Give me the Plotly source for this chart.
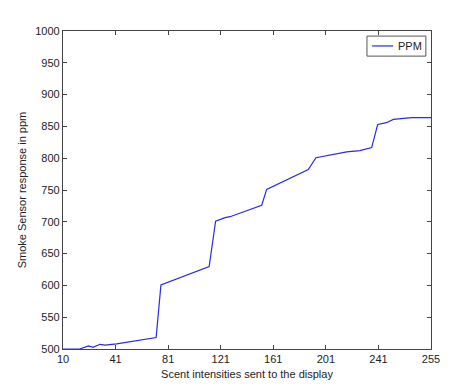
import plotly.graph_objects as go

x_vals = [10, 21, 27, 30, 34.6, 38, 45.7, 72, 75.2, 107.3, 111.6, 117.9, 121.2, 131.2,
          141.2, 142.3, 145.6, 150, 161.1, 173.3, 178.4, 187.8, 198.9, 207.7, 215.5,
          219.5, 225.4, 229.9, 242, 255]
ppm = [500, 500, 505, 502.6, 507.4, 506, 508, 518, 600.6, 629.5, 701, 706.5, 708, 717,
       725.3, 726, 751, 756, 768, 782, 800.8, 805, 810, 812, 816.7,
       853, 855.8, 861, 863.7, 863.7]
series_name = "PPM"

x_tick_pos = [10, 45, 80, 115, 150, 185, 220, 255]
x_tick_labels = ["10", "41", "81", "121", "161", "201", "241", "255"]
y_ticks = [500, 550, 600, 650, 700, 750, 800, 850, 900, 950, 1000]

font = dict(family="Liberation Sans, Arial, sans-serif", size=11, color="#222222")
line_color = "#2a2ae0"

fig = go.Figure()
fig.add_trace(go.Scatter(x=x_vals, y=ppm, mode="lines", name=series_name,
                         line=dict(color=line_color, width=1.2), showlegend=False))

axis_common = dict(showgrid=False, zeroline=False, showline=True, linecolor="#444444",
                   linewidth=1.3, mirror="ticks", ticks="inside", ticklen=4,
                   tickcolor="#444444", tickfont=font)

# legend box (MATLAB style)
fig.add_shape(type="rect", xref="paper", yref="paper", x0=0.826, x1=0.986, y0=0.921, y1=0.984,
              line=dict(color="#555555", width=1), fillcolor="white")
fig.add_shape(type="line", xref="paper", yref="paper", x0=0.840, x1=0.897, y0=0.953, y1=0.953,
              line=dict(color=line_color, width=1.2))
fig.add_annotation(xref="paper", yref="paper", x=0.905, y=0.953, text=series_name,
                   showarrow=False, xanchor="left", yanchor="middle", font=font)

fig.update_layout(
    width=474, height=391,
    margin=dict(l=63, r=43, t=31, b=42),
    paper_bgcolor="white", plot_bgcolor="white",
    font=font,
    xaxis=dict(range=[10, 255], tickvals=x_tick_pos, ticktext=x_tick_labels,
               title=dict(text="Scent intensities sent to the display", font=font, standoff=5),
               **axis_common),
    yaxis=dict(range=[500, 1000], tickvals=y_ticks,
               title=dict(text="Smoke Sensor response in ppm", font=font, standoff=6),
               **axis_common),
    showlegend=False,
)

fig.write_html("out.html")
